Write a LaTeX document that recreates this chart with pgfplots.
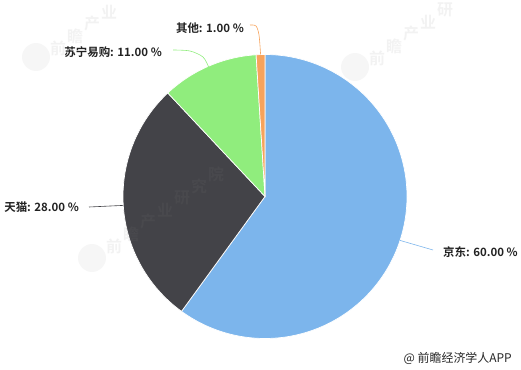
\documentclass[border=0pt]{standalone}
\usepackage{fontspec}
\setmainfont{Noto Sans CJK SC}[BoldFont={Noto Sans CJK SC Bold}]
\usepackage{pgfplots}
\pgfplotsset{compat=1.18}

\definecolor{cJD}{HTML}{7CB5EC}
\definecolor{cTM}{HTML}{434348}
\definecolor{cSN}{HTML}{90ED7D}
\definecolor{cQT}{HTML}{F7A35C}
\definecolor{lbl}{HTML}{222222}

% shares in percent
\def\vJD{60}
\def\vTM{28}
\def\vSN{11}
\def\vQT{1}

% pie geometry (centre and radius in axis units)
\def\cx{265}
\def\cy{173.5}
\def\rr{142}

\pgfmathsetmacro\aA{0}
\pgfmathsetmacro\aB{\aA+\vJD*3.6}
\pgfmathsetmacro\aC{\aB+\vTM*3.6}
\pgfmathsetmacro\aD{\aC+\vSN*3.6}
\pgfmathsetmacro\aE{\aD+\vQT*3.6}

% faint logo stamp pieces
\newcommand\wmbadge[2]{\fill[gray, opacity=0.07] (axis cs:#1,#2) circle[radius=14bp];}
\newcommand\wmch[3]{\node[text=gray, opacity=0.10, inner sep=0pt,
  font=\bfseries\fontsize{16}{16}\selectfont] at (axis cs:#1,#2) {#3};}

\begin{document}
\begin{tikzpicture}
\begin{axis}[
  width=521bp, height=370bp, scale only axis,
  xmin=0, xmax=521, ymin=0, ymax=370,
  hide axis, clip=false,
]
\path (rel axis cs:0,0) rectangle (rel axis cs:1,1);

% slices, clockwise from the top
\addplot[draw=white, line width=0.7pt, fill=cJD, domain=\aA:\aB, samples=150, variable=\t]
  ({\cx+\rr*sin(\t)}, {\cy+\rr*cos(\t)}) -- (axis cs:\cx,\cy) -- cycle;
\addplot[draw=white, line width=0.7pt, fill=cTM, domain=\aB:\aC, samples=80, variable=\t]
  ({\cx+\rr*sin(\t)}, {\cy+\rr*cos(\t)}) -- (axis cs:\cx,\cy) -- cycle;
\addplot[draw=white, line width=0.7pt, fill=cSN, domain=\aC:\aD, samples=40, variable=\t]
  ({\cx+\rr*sin(\t)}, {\cy+\rr*cos(\t)}) -- (axis cs:\cx,\cy) -- cycle;
\addplot[draw=white, line width=0.7pt, fill=cQT, domain=\aD:\aE, samples=10, variable=\t]
  ({\cx+\rr*sin(\t)}, {\cy+\rr*cos(\t)}) -- (axis cs:\cx,\cy) -- cycle;

% watermarks
\wmbadge{36}{313}
\wmch{58}{322}{前}\wmch{75}{334}{瞻}\wmch{92}{346}{产}\wmch{109}{358}{业}
\wmbadge{355}{303}
\wmch{377}{312}{前}\wmch{394}{324}{瞻}\wmch{411}{336}{产}\wmch{428}{348}{业}\wmch{445}{360}{研}
\wmbadge{92}{112}
\wmch{114}{124}{前}\wmch{131}{136}{瞻}\wmch{148}{148}{产}\wmch{165}{160}{业}
\wmch{182}{172}{研}\wmch{199}{184}{究}\wmch{216}{196}{院}

% connectors
\addplot[cJD, line width=0.6pt, mark=none] coordinates {(400,129.6) (433,120)};
\addplot[cTM, line width=0.6pt, mark=none] coordinates {(123.3,164.6) (89,163)};
\addplot[cSN, line width=0.6pt, mark=none, smooth] coordinates {(208.6,303) (203,313) (190,319) (173,320)};
\addplot[cQT, line width=0.6pt, mark=none, smooth] coordinates {(260.6,315.4) (259,335) (256,344) (250,345)};

% data labels
\begin{scope}[every node/.style={text=lbl, font=\bfseries\fontsize{11.5}{12}\selectfont, inner sep=0pt}]
\node[anchor=west] at (axis cs:443,118) {京东: 60.00 \%};
\node[anchor=east] at (axis cs:79,163) {天猫: 28.00 \%};
\node[anchor=east] at (axis cs:162,318) {苏宁易购: 11.00 \%};
\node[anchor=east] at (axis cs:244,342) {其他: 1.00 \%};
\end{scope}

\node[anchor=east, inner sep=0pt, text=black!85, font=\fontsize{12}{12}\selectfont] at (axis cs:512,12) {@ 前瞻经济学人APP};
\end{axis}
\end{tikzpicture}
\end{document}
